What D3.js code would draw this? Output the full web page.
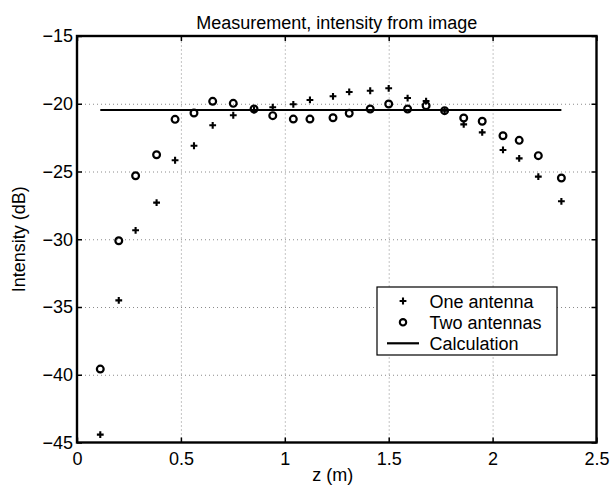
<!DOCTYPE html>
<html>
	<head>
		<meta charset="UTF-8">
		<title></title>
		<style>
			body {margin: 0; background: white;}
			text {font-family: "Liberation Sans", Arial, Helvetica, sans-serif; font-size: 18px; fill: black;}
			.grid line {stroke: #8a8a8a; stroke-width: 1; stroke-dasharray: 1,3;}
			.grid path {display: none;}
			.axis path {display: none;}
			.axis line {stroke: black; stroke-width: 1.5;}
		</style>
	</head>
	<body>
		<script src="https://cdn.jsdelivr.net/npm/d3@7"></script>
		<script>
			// data
			var zPos = [0.112, 0.201, 0.282, 0.383, 0.472, 0.563, 0.653, 0.752, 0.852, 0.942,
				1.041, 1.121, 1.232, 1.310, 1.411, 1.500, 1.591, 1.680, 1.769, 1.861,
				1.950, 2.050, 2.128, 2.220, 2.331];
			var oneAntenna = [-44.42, -34.51, -29.34, -27.30, -24.17, -23.10, -21.59, -20.85, -20.46, -20.26,
				-20.04, -19.72, -19.45, -19.13, -19.04, -18.86, -19.58, -19.80, -20.51, -21.52,
				-22.11, -23.41, -24.03, -25.38, -27.20];
			var twoAntennas = [-39.58, -30.11, -25.31, -23.76, -21.15, -20.68, -19.82, -19.97, -20.39, -20.88,
				-21.13, -21.13, -21.03, -20.70, -20.39, -20.02, -20.39, -20.14, -20.51, -21.05,
				-21.29, -22.36, -22.70, -23.83, -25.48];
			var calcZ = [0.112, 2.331];
			var calcValues = [-20.46, -20.46];
			var xTicks = [0, 0.5, 1, 1.5, 2, 2.5];
			var yTicks = [-15, -20, -25, -30, -35, -40, -45];
			var legendLabels = ["One antenna", "Two antennas", "Calculation"];

			var width = 610;
			var height = 486;
			var padding = {left: 77, right: 13.5, top: 36, bottom: 43.5};
			var w = width - padding.left - padding.right;
			var h = height - padding.top - padding.bottom;

			var svg = d3.select("body")
				.append("svg")
				.attr("width", width)
				.attr("height", height);

			var xScale = d3.scaleLinear().domain([0, 2.5]).range([0, w]);
			var yScale = d3.scaleLinear().domain([-45, -15]).range([h, 0]);

			var g = svg.append("g")
				.attr("transform", "translate(" + padding.left + "," + padding.top + ")");

			// dotted grid, inner lines only
			g.append("g")
				.attr("class", "grid")
				.attr("transform", "translate(0," + h + ")")
				.call(d3.axisBottom(xScale).tickValues(xTicks.slice(1, -1)).tickSize(-h).tickFormat(""));
			g.append("g")
				.attr("class", "grid")
				.call(d3.axisLeft(yScale).tickValues(yTicks.slice(1, -1)).tickSize(-w).tickFormat(""));

			// axes, ticks pointing inwards on all four sides
			g.append("g")
				.attr("class", "axis")
				.attr("transform", "translate(0," + h + ")")
				.call(d3.axisBottom(xScale).tickValues(xTicks).tickSize(-5).tickPadding(10)
					.tickFormat(d3.format("")));
			g.append("g")
				.attr("class", "axis")
				.call(d3.axisLeft(yScale).tickValues(yTicks).tickSize(-5).tickPadding(4)
					.tickFormat(d3.format("")));
			g.append("g")
				.attr("class", "axis")
				.call(d3.axisTop(xScale).tickValues(xTicks).tickSize(-5).tickFormat(""));
			g.append("g")
				.attr("class", "axis")
				.attr("transform", "translate(" + w + ",0)")
				.call(d3.axisRight(yScale).tickValues(yTicks).tickSize(-5).tickFormat(""));
			g.selectAll(".axis text")
				.style("font-size", "18px")
				.style("font-family", "'Liberation Sans', Arial, sans-serif");

			// calculation line
			var line = d3.line()
				.x(function(d, i) { return xScale(calcZ[i]); })
				.y(function(d) { return yScale(d); });
			g.append("path")
				.datum(calcValues)
				.attr("d", line)
				.attr("fill", "none")
				.attr("stroke", "black")
				.attr("stroke-width", 2.2);

			// plus markers
			var plus = "M-3.4,0H3.4M0,-3.4V3.4";
			g.selectAll(".one")
				.data(oneAntenna)
				.enter()
				.append("path")
				.attr("class", "one")
				.attr("transform", function(d, i) {
					return "translate(" + xScale(zPos[i]) + "," + yScale(d) + ")";
				})
				.attr("d", plus)
				.attr("stroke", "black")
				.attr("stroke-width", 2.1);

			// circle markers
			g.selectAll(".two")
				.data(twoAntennas)
				.enter()
				.append("circle")
				.attr("class", "two")
				.attr("cx", function(d, i) { return xScale(zPos[i]); })
				.attr("cy", function(d) { return yScale(d); })
				.attr("r", 3.4)
				.attr("fill", "none")
				.attr("stroke", "black")
				.attr("stroke-width", 2.2);

			// box
			g.append("rect")
				.attr("width", w)
				.attr("height", h)
				.attr("fill", "none")
				.attr("stroke", "black")
				.attr("stroke-width", 2.4);

			// legend
			var lg = svg.append("g").attr("transform", "translate(377,287)");
			lg.append("rect")
				.attr("width", 180)
				.attr("height", 68)
				.attr("fill", "white")
				.attr("stroke", "black")
				.attr("stroke-width", 1.2);
			lg.append("path")
				.attr("transform", "translate(26,14)")
				.attr("d", plus)
				.attr("stroke", "black")
				.attr("stroke-width", 2.1);
			lg.append("circle")
				.attr("cx", 26)
				.attr("cy", 35.3)
				.attr("r", 3.2)
				.attr("fill", "none")
				.attr("stroke", "black")
				.attr("stroke-width", 2.1);
			lg.append("line")
				.attr("x1", 10).attr("x2", 42)
				.attr("y1", 56.3).attr("y2", 56.3)
				.attr("stroke", "black")
				.attr("stroke-width", 2.2);
			lg.selectAll(".lgText")
				.data(legendLabels)
				.enter()
				.append("text")
				.attr("class", "lgText")
				.attr("x", 52.5)
				.attr("y", function(d, i) { return 20.5 + i * 21.2; })
				.text(function(d) { return d; });

			// title and axis labels
			svg.append("text")
				.attr("x", padding.left + w / 2)
				.attr("y", 28.5)
				.attr("text-anchor", "middle")
				.text("Measurement, intensity from image");
			svg.append("text")
				.attr("x", padding.left + w / 2 - 4)
				.attr("y", 481)
				.attr("text-anchor", "middle")
				.text("z (m)");
			svg.append("text")
				.attr("transform", "translate(25," + (padding.top + h / 2) + ") rotate(-90)")
				.attr("text-anchor", "middle")
				.text("Intensity (dB)");
		</script>
	</body>
</html>
